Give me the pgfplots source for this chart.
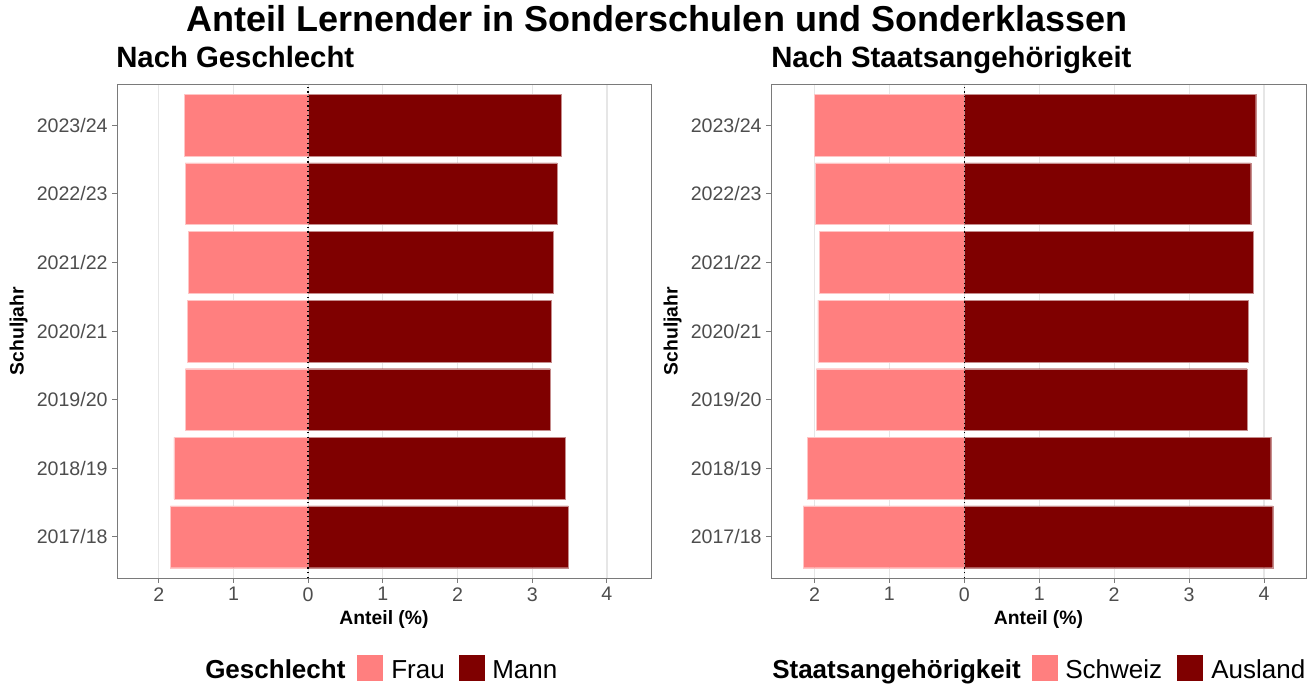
\documentclass[border=0pt]{standalone}
\usepackage{pgfplots}
\pgfplotsset{compat=1.18}
\usepackage{fontspec}
\setmainfont{Liberation Sans}
\definecolor{lightc}{HTML}{FF7F7F}
\definecolor{darkc}{HTML}{7F0000}
\definecolor{tickgrey}{HTML}{4D4D4D}
\definecolor{gridgrey}{HTML}{E6E6E6}
\definecolor{bordergrey}{HTML}{7A7A7A}
\pgfplotsset{
  panel/.style={
    scale only axis, height=370.5pt,
    ymin=-0.6, ymax=6.6,
    xtick={-2,...,4}, xticklabels={2,1,0,1,2,3,4},
    ytick={0,...,6},
    yticklabels={2017/18,2018/19,2019/20,2020/21,2021/22,2022/23,2023/24},
    axis line style={bordergrey, line width=0.7pt},
    tick style={bordergrey, line width=0.7pt},
    tick align=outside, major tick length=3.5pt,
    tick pos=left,
    xmajorgrids, grid style={gridgrey, line width=0.9pt},
    ticklabel style={font=\fontsize{14.7}{17}\selectfont, text=tickgrey},
    /pgf/number format/assume math mode=true,
    xlabel={Anteil (\%)}, ylabel={Schuljahr},
    label style={font=\bfseries\fontsize{14.5}{17}\selectfont},
    xbar, bar width=0.9,
  }
}
\begin{document}
\begin{tikzpicture}
\path (0pt,0pt) rectangle (983.25pt,-513.75pt);
% left panel
\begin{axis}[panel, at={(87.75pt,-433.5pt)}, anchor=south west, width=400.5pt,
  xmin=-2.56, xmax=4.59]
\addplot[fill=lightc, draw=white!55!lightc, line width=0.3pt, bar shift=0pt] coordinates {
 (-1.844,0) (-1.799,1) (-1.643,2) (-1.621,3) (-1.607,4) (-1.647,5) (-1.661,6)};
\addplot[fill=darkc, draw=white!55!darkc, line width=0.3pt, bar shift=0pt] coordinates {
 (3.484,0) (3.444,1) (3.244,2) (3.253,3) (3.284,4) (3.333,5) (3.391,6)};
\addplot[black, line width=1.1pt, dash pattern=on 1.1pt off 2.4pt, xbar=false, sharp plot] coordinates {(0,-0.6) (0,6.6)};
\end{axis}
% right panel
\begin{axis}[panel, at={(578.25pt,-433.5pt)}, anchor=south west, width=401.25pt,
  xmin=-2.58, xmax=4.56]
\addplot[fill=lightc, draw=white!55!lightc, line width=0.3pt, bar shift=0pt] coordinates {
 (-2.151,0) (-2.098,1) (-1.973,2) (-1.955,3) (-1.938,4) (-1.987,5) (-2.000,6)};
\addplot[fill=darkc, draw=white!55!darkc, line width=0.3pt, bar shift=0pt] coordinates {
 (4.116,0) (4.089,1) (3.773,2) (3.791,3) (3.853,4) (3.822,5) (3.889,6)};
\addplot[black, line width=1.1pt, dash pattern=on 1.1pt off 2.4pt, xbar=false, sharp plot] coordinates {(0,-0.6) (0,6.6)};
\end{axis}
\begin{scope}[x=0.75pt, y=-0.75pt]
\node[anchor=base, inner sep=0pt, font=\bfseries\fontsize{27}{32}\selectfont] at (657,32) {Anteil Lernender in Sonderschulen und Sonderklassen};
\node[anchor=base west, inner sep=0pt, font=\bfseries\fontsize{22}{26}\selectfont] at (116,68) {Nach Geschlecht};
\node[anchor=base west, inner sep=0pt, font=\bfseries\fontsize{22}{26}\selectfont] at (771,68) {Nach Staatsangehörigkeit};
% legends
\node[anchor=base west, inner sep=0pt, font=\bfseries\fontsize{19.5}{23}\selectfont] at (205,678) {Geschlecht};
\fill[lightc] (357,655) rectangle (383,681);
\node[anchor=base west, inner sep=0pt, font=\fontsize{19.5}{23}\selectfont] at (391,678) {Frau};
\fill[darkc] (459,655) rectangle (485,681);
\node[anchor=base west, inner sep=0pt, font=\fontsize{19.5}{23}\selectfont] at (492,678) {Mann};
\node[anchor=base west, inner sep=0pt, font=\bfseries\fontsize{19.5}{23}\selectfont] at (772,678) {Staatsangehörigkeit};
\fill[lightc] (1032,655) rectangle (1058,681);
\node[anchor=base west, inner sep=0pt, font=\fontsize{19.5}{23}\selectfont] at (1065,678) {Schweiz};
\fill[darkc] (1177,655) rectangle (1203,681);
\node[anchor=base west, inner sep=0pt, font=\fontsize{19.5}{23}\selectfont] at (1211,678) {Ausland};
\end{scope}
\end{tikzpicture}
\end{document}
